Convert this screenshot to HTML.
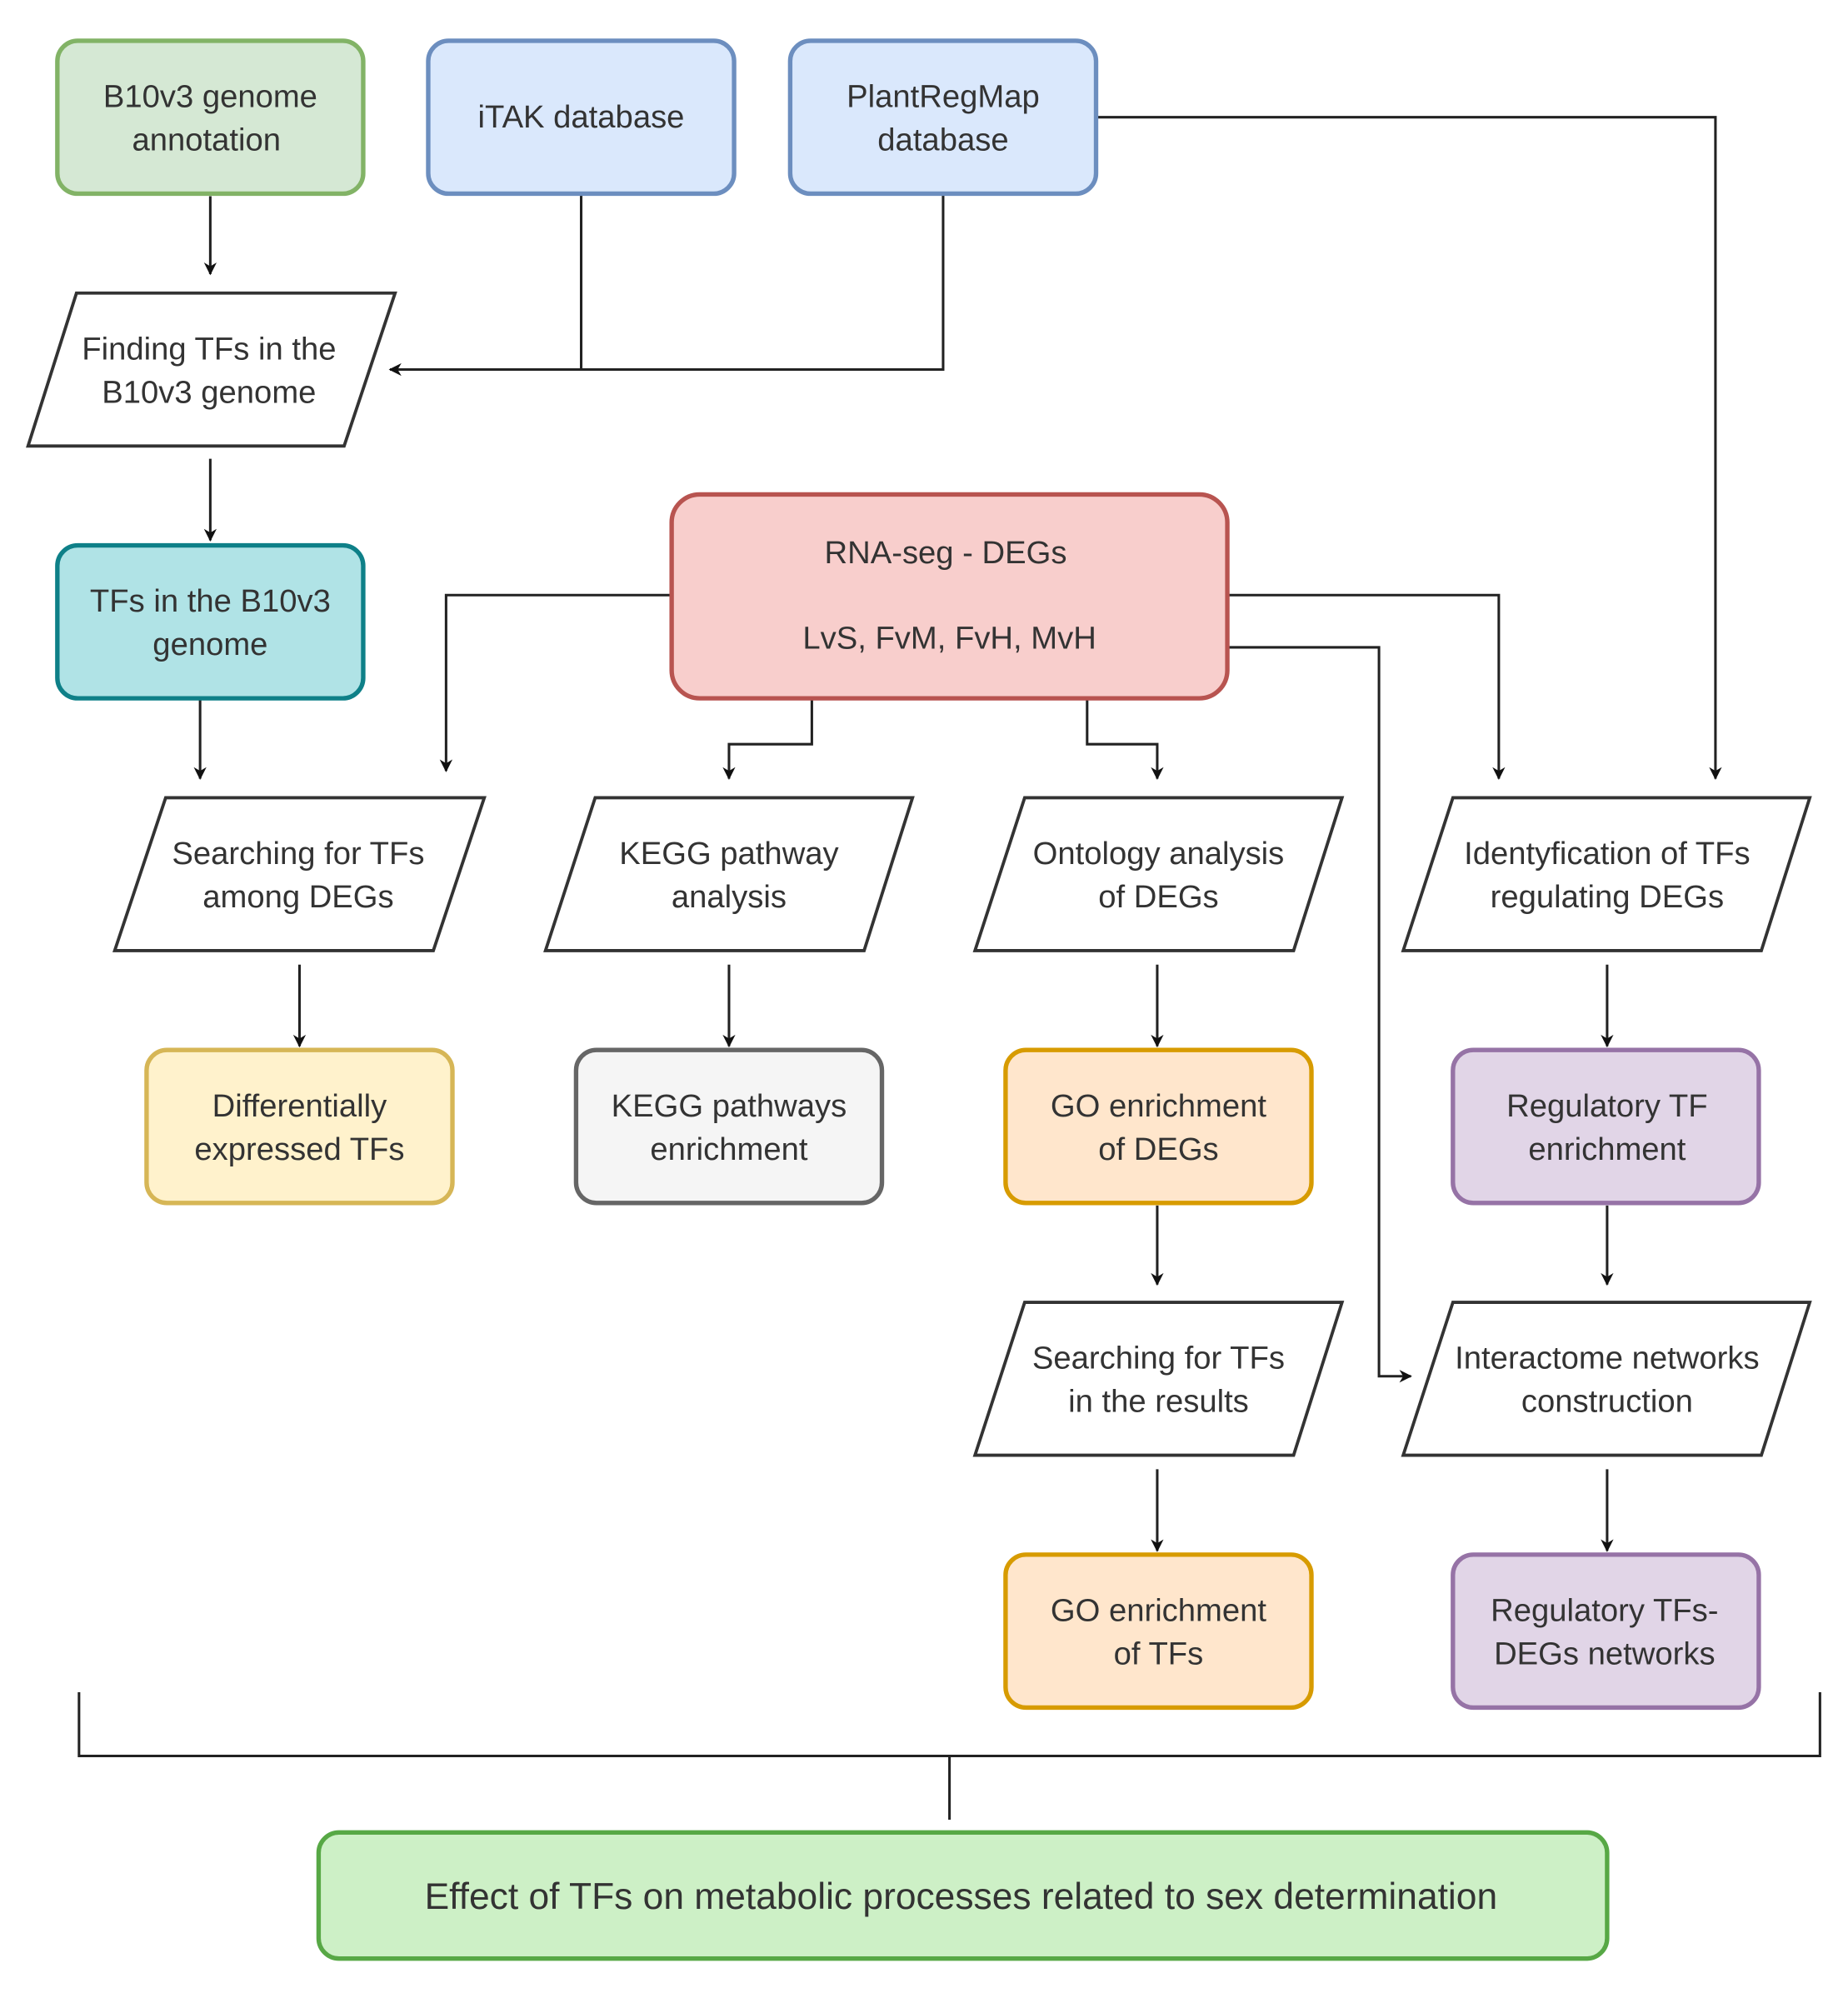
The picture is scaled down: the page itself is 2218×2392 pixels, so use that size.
<!DOCTYPE html>
<html><head><meta charset="utf-8"><style>
html,body{margin:0;padding:0;background:#fff;}
svg{display:block;}
text{font-family:"Liberation Sans",sans-serif;font-size:25px;fill:#333;text-anchor:middle;}
</style></head><body>
<svg width="2218" height="2392" viewBox="0 0 1450 1564" preserveAspectRatio="none" xmlns="http://www.w3.org/2000/svg">
<defs><marker id="a" markerWidth="10" markerHeight="10" refX="9" refY="5" orient="auto" markerUnits="userSpaceOnUse"><path d="M0,0 L10,5 L0,10 L3,5 z" fill="#111"/></marker></defs>
<g fill="none" stroke="#222" stroke-width="2">
<path d="M165,154 V215" marker-end="url(#a)"/>
<path d="M456,152 V290"/>
<path d="M740,152 V290 H306" marker-end="url(#a)"/>
<path d="M860,92 H1346 V611" marker-end="url(#a)"/>
<path d="M165,360 V424" marker-end="url(#a)"/>
<path d="M157,548 V611" marker-end="url(#a)"/>
<path d="M527,467 H350 V605" marker-end="url(#a)"/>
<path d="M637,548 V584 H572 V611" marker-end="url(#a)"/>
<path d="M853,548 V584 H908 V611" marker-end="url(#a)"/>
<path d="M963,467 H1176 V611" marker-end="url(#a)"/>
<path d="M963,508 H1082 V1080 H1107" marker-end="url(#a)"/>
<path d="M235,757 V821" marker-end="url(#a)"/>
<path d="M572,757 V821" marker-end="url(#a)"/>
<path d="M908,757 V821" marker-end="url(#a)"/>
<path d="M1261,757 V821" marker-end="url(#a)"/>
<path d="M908,946 V1008" marker-end="url(#a)"/>
<path d="M1261,946 V1008" marker-end="url(#a)"/>
<path d="M908,1153 V1217" marker-end="url(#a)"/>
<path d="M1261,1153 V1217" marker-end="url(#a)"/>
<path d="M62,1328 V1378 H1428 V1328"/>
<path d="M745,1378 V1428"/>
</g>
<g stroke-width="3.5">
<rect x="45" y="32" width="240" height="120" rx="16" fill="#d5e8d4" stroke="#82b366"/>
<rect x="336" y="32" width="240" height="120" rx="16" fill="#dae8fc" stroke="#6c8ebf"/>
<rect x="620" y="32" width="240" height="120" rx="16" fill="#dae8fc" stroke="#6c8ebf"/>
<rect x="45" y="428" width="240" height="120" rx="16" fill="#b0e3e6" stroke="#0e8088"/>
<rect x="527" y="388" width="436" height="160" rx="22" fill="#f8cecc" stroke="#b85450"/>
<rect x="115" y="824" width="240" height="120" rx="16" fill="#fff2cc" stroke="#d6b656"/>
<rect x="452" y="824" width="240" height="120" rx="16" fill="#f5f5f5" stroke="#666666"/>
<rect x="789" y="824" width="240" height="120" rx="16" fill="#ffe6cc" stroke="#d79b00"/>
<rect x="1140" y="824" width="240" height="120" rx="16" fill="#e1d5e7" stroke="#9673a6"/>
<rect x="789" y="1220" width="240" height="120" rx="16" fill="#ffe6cc" stroke="#d79b00"/>
<rect x="1140" y="1220" width="240" height="120" rx="16" fill="#e1d5e7" stroke="#9673a6"/>
<rect x="250" y="1438" width="1011" height="99" rx="16" fill="#cdf0c6" stroke="#57a845"/>
</g>
<g fill="#fff" stroke="#333" stroke-width="2.5">
<polygon points="60,230 310,230 270,350 22,350"/>
<polygon points="130,626 380,626 340,746 90,746"/>
<polygon points="467,626 716,626 678,746 428,746"/>
<polygon points="804,626 1053,626 1015,746 765,746"/>
<polygon points="1140,626 1420,626 1382,746 1101,746"/>
<polygon points="804,1022 1053,1022 1015,1142 765,1142"/>
<polygon points="1140,1022 1420,1022 1382,1142 1101,1142"/>
</g>
<text x="165" y="84">B10v3 genome</text><text x="162" y="118">annotation</text>
<text x="456" y="100">iTAK database</text>
<text x="740" y="84">PlantRegMap</text><text x="740" y="118">database</text>
<text x="164" y="282">Finding TFs in the</text><text x="164" y="316">B10v3 genome</text>
<text x="165" y="480">TFs in the B10v3</text><text x="165" y="514">genome</text>
<text x="742" y="442">RNA-seg - DEGs</text><text x="745" y="509">LvS, FvM, FvH, MvH</text>
<text x="234" y="678">Searching for TFs</text><text x="234" y="712">among DEGs</text>
<text x="572" y="678">KEGG pathway</text><text x="572" y="712">analysis</text>
<text x="909" y="678">Ontology analysis</text><text x="909" y="712">of DEGs</text>
<text x="1261" y="678">Identyfication of TFs</text><text x="1261" y="712">regulating DEGs</text>
<text x="235" y="876">Differentially</text><text x="235" y="910">expressed TFs</text>
<text x="572" y="876">KEGG pathways</text><text x="572" y="910">enrichment</text>
<text x="909" y="876">GO enrichment</text><text x="909" y="910">of DEGs</text>
<text x="1261" y="876">Regulatory TF</text><text x="1261" y="910">enrichment</text>
<text x="909" y="1074">Searching for TFs</text><text x="909" y="1108">in the results</text>
<text x="1261" y="1074">Interactome networks</text><text x="1261" y="1108">construction</text>
<text x="909" y="1272">GO enrichment</text><text x="909" y="1306">of TFs</text>
<text x="1259" y="1272">Regulatory TFs-</text><text x="1259" y="1306">DEGs networks</text>
<text x="754" y="1498" style="font-size:29px">Effect of TFs on metabolic processes related to sex determination</text>
</svg>
</body></html>
